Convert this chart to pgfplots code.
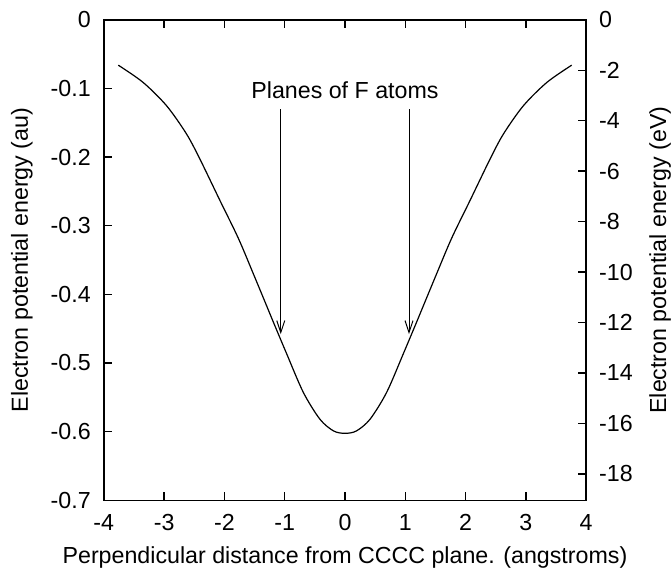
\documentclass[border={5.5pt 0.2pt 0.5pt 2.5pt}]{standalone}
\usepackage{fontspec}
\setmainfont{Liberation Sans}
\usepackage{pgfplots}
\pgfplotsset{compat=1.18}
\usetikzlibrary{arrows.meta}

\pgfplotstableread{
x y
-3.76 -0.0660
-3.35 -0.0910
-2.96 -0.1250
-2.63 -0.1660
-2.407 -0.2027
-2.075 -0.2630
-1.77 -0.3180
-1.52 -0.3700
-1.30 -0.4166
-1.19 -0.4400
-0.97 -0.4860
-0.69 -0.5430
-0.415 -0.5820
-0.19 -0.5990
0 -0.6025
0.19 -0.5990
0.415 -0.5820
0.69 -0.5430
0.97 -0.4860
1.19 -0.4400
1.30 -0.4166
1.52 -0.3700
1.77 -0.3180
2.075 -0.2630
2.407 -0.2027
2.63 -0.1660
2.96 -0.1250
3.35 -0.0910
3.76 -0.0660
}\potential

\newcommand{\lblfont}{\fontsize{11.6}{14}\selectfont}

\begin{document}
\begin{tikzpicture}
\pgfplotsset{
  every axis/.append style={
    scale only axis, width=241pt, height=240pt,
    tick align=inside, major tick length=4pt,
    tick style={line width=0.7pt, black},
    axis line style={line width=0.7pt},
    tick label style={font=\lblfont},
    label style={font=\lblfont, inner sep=0pt},
  }
}
\begin{axis}[
  xmin=-4, xmax=4, ymin=-0.7, ymax=0,
  xtick={-4,-3,-2,-1,0,1,2,3,4},
  xticklabels={-4,-3,-2,-1,0,1,2,3,4},
  xticklabel style={yshift=-3.5pt},
  yticklabel style={xshift=-3pt},
  ytick={-0.7,-0.6,-0.5,-0.4,-0.3,-0.2,-0.1,0},
  yticklabels={-0.7,-0.6,-0.5,-0.4,-0.3,-0.2,-0.1,0},
  xtick pos=both, ytick pos=left,
  xlabel={Perpendicular distance from CCCC plane. (angstroms)},
  ylabel={Electron potential energy (au)},
  xlabel style={at={(axis description cs:0.5,-0.12)}, anchor=center},
  ylabel style={at={(axis description cs:-0.17,0.5)}, anchor=center},
]
\addplot[black, line width=0.6pt, smooth] table {\potential};
\draw[line width=0.5pt, -{Straight Barb[length=6pt,width=4pt]}] (axis cs:-1.065,-0.130) -- (axis cs:-1.065,-0.458);
\draw[line width=0.5pt, -{Straight Barb[length=6pt,width=4pt]}] (axis cs:1.062,-0.130) -- (axis cs:1.062,-0.458);
\node[font=\lblfont] at (axis cs:0,-0.103) {Planes of F atoms};
\end{axis}
\begin{axis}[
  xmin=-4, xmax=4, ymin=-19.048, ymax=0,
  axis x line=none, axis y line*=right,
  yticklabel style={xshift=3pt},
  ytick={-18,-16,-14,-12,-10,-8,-6,-4,-2,0},
  yticklabels={-18,-16,-14,-12,-10,-8,-6,-4,-2,0},
  ylabel={Electron potential energy (eV)},
  ylabel style={at={(axis description cs:1.1535,0.5)}, anchor=center, rotate=0},
]
\end{axis}
\end{tikzpicture}
\end{document}
